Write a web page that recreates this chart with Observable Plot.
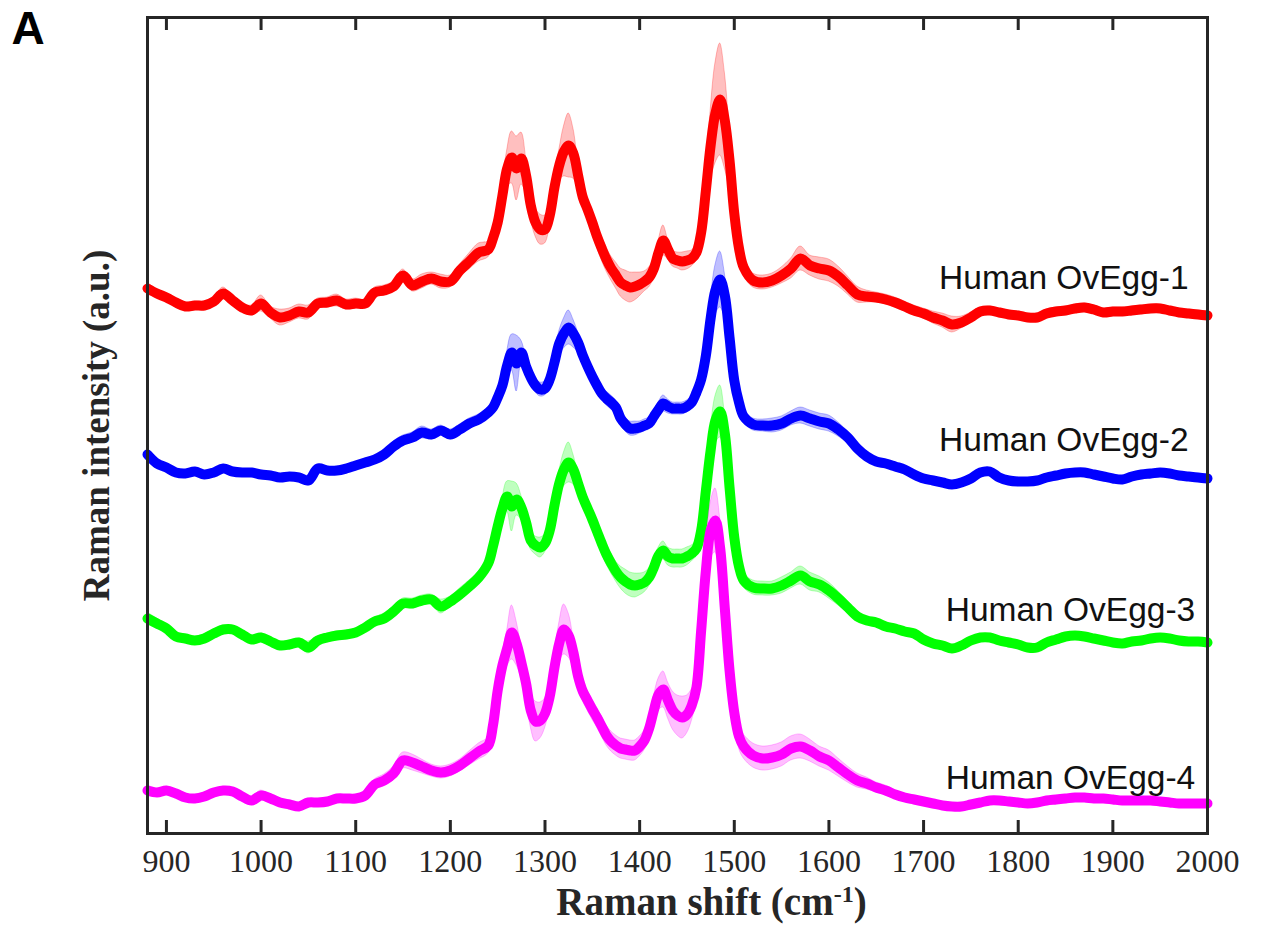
<!DOCTYPE html>
<html>
<head>
<meta charset="utf-8">
<script src="https://cdn.jsdelivr.net/npm/d3@7"></script>
<script src="https://cdn.jsdelivr.net/npm/@observablehq/plot@0.6"></script>
<style>
  html, body { margin: 0; padding: 0; background: #fff; }
  #chart { width: 1261px; height: 926px; }
</style>
</head>
<body>
<div id="chart"></div>
<script>
// Raman shift grid (cm^-1)
const wavenumbers = [
  880,890,900,910,920,930,940,950,960,970,980,990,1000,1010,1020,1030,1040,1050,1060,1070,
  1080,1090,1100,1110,1120,1130,1140,1150,1160,1170,1180,1190,1200,1210,1220,1230,1240,
  1245,1250,1255,1260,1265,1270,1275,1280,1285,1290,1295,1300,1305,1310,1315,1320,1325,1330,
  1335,1340,1345,1350,1355,1360,1365,1370,1375,1380,1385,1390,1395,1400,1405,1410,1415,1420,
  1425,1430,1435,1440,1445,1450,1455,1460,1465,1470,1475,1480,1485,1490,1495,1500,1505,1510,
  1520,1530,1540,1550,1560,1570,1580,1590,1600,1610,1620,1630,1640,1650,1660,1670,1680,1690,
  1700,1710,1720,1730,1740,1750,1760,1770,1780,1790,1800,1810,1820,1830,1840,1850,1860,1870,
  1880,1890,1900,1910,1920,1930,1940,1950,1960,1970,1980,1990,2000
];

const seriesNames = ["Human OvEgg-1", "Human OvEgg-2", "Human OvEgg-3", "Human OvEgg-4"];
const seriesColors = ["#ff0000", "#0000ff", "#00ff00", "#ff00ff"];

// Mean intensities (a.u., offset stacked)
const ovEgg1 = [
  545,540,536,531,527,528,528,532,540,533,526,523,530,521,516,518,522,521,530,531,
  533,529,530,530,541,543,547,558,548,552,555,552,552,563,572,581,584,
  595,611,638,665,676,665,675,658,628,611,604,604,618,646,668,682,688,680,
  658,636,624,611,597,585,574,565,558,551,548,546,547,549,552,556,565,581,
  593,584,575,573,572,573,575,581,601,643,688,720,734,713,673,620,585,566,
  553,551,553,558,565,575,568,565,563,557,548,539,537,536,534,531,527,523,
  520,516,513,509,511,516,522,523,521,519,518,516,516,520,522,523,525,526,
  524,521,522,522,523,524,525,525,523,521,520,519,518
];
const ovEgg1Sd = [
  6,4,4,5,4,4,4,4,6,4,4,5,8,6,8,7,7,7,5,5,
  6,5,5,4,5,5,5,6,6,7,6,7,6,6,8,9,8,
  8,10,12,18,26,32,26,18,14,14,15,14,12,12,15,25,32,25,
  14,10,10,10,11,12,12,12,13,14,15,15,14,12,10,10,10,12,
  15,10,8,8,9,9,8,8,12,20,35,50,56,48,30,15,9,8,
  7,7,7,8,10,12,10,11,11,10,9,8,6,5,5,5,5,5,
  5,6,7,8,6,5,4,4,4,4,4,4,4,4,4,4,4,4,
  4,4,4,4,4,4,4,4,4,4,4,4,4
];

const ovEgg2 = [
  379,370,366,361,360,362,359,361,365,362,361,361,359,358,356,357,356,353,365,363,
  363,365,368,371,374,379,387,393,396,401,399,403,399,404,410,414,421,
  426,436,448,468,481,470,481,467,456,448,444,445,454,471,490,500,506,500,
  491,478,467,457,448,440,435,431,426,415,409,405,405,406,408,410,417,424,
  430,427,425,425,425,427,431,441,454,478,515,543,554,538,496,453,431,417,
  409,408,408,410,415,418,415,412,410,404,396,385,377,372,370,367,364,359,
  355,353,351,349,351,355,361,362,356,353,352,352,353,356,358,360,361,361,
  359,357,355,354,357,359,360,361,360,358,357,356,355
];
const ovEgg2Sd = [
  5,4,3,3,3,3,3,3,3,3,3,3,3,3,3,3,3,5,4,3,
  3,3,3,3,3,4,5,5,5,6,5,5,5,5,5,5,5,
  5,6,8,14,18,28,12,10,8,7,7,7,7,8,12,15,17,14,
  10,8,7,7,7,7,7,7,7,7,7,7,7,6,6,6,6,7,
  8,7,6,6,6,6,6,6,8,12,18,25,28,22,14,8,6,6,
  6,6,7,7,7,8,8,8,8,7,6,5,3,3,3,3,3,3,
  3,3,3,3,3,3,3,3,3,3,3,3,3,3,3,3,3,3,
  3,3,3,3,3,3,3,3,3,3,3,3,3
];

const ovEgg3 = [
  215,210,205,197,195,193,195,200,204,204,199,194,196,192,188,189,191,186,193,196,
  198,199,201,206,212,215,222,230,230,233,234,227,232,239,247,256,270,
  287,307,325,337,327,334,326,311,293,288,286,290,303,328,350,364,371,364,
  350,336,325,314,302,290,279,270,262,256,252,249,248,249,251,256,266,278,
  283,277,275,275,275,277,280,285,303,343,383,413,422,400,346,296,267,253,
  246,245,245,248,253,258,252,249,243,235,226,217,213,211,207,205,202,200,
  194,190,188,185,188,193,196,196,193,191,189,186,186,191,194,197,198,197,
  195,193,191,190,192,193,195,196,195,193,192,192,191
];
const ovEgg3Sd = [
  6,5,4,4,4,4,4,4,4,4,4,4,4,4,4,4,4,6,4,4,
  4,4,4,4,4,5,5,5,5,5,5,7,5,6,6,6,6,
  7,8,10,15,25,16,12,10,9,9,10,9,8,9,12,17,20,15,
  10,8,8,8,9,10,10,10,10,11,12,12,12,11,10,9,8,8,
  9,9,9,9,9,9,8,8,10,14,20,24,26,20,12,8,7,7,
  7,7,7,8,8,9,9,8,8,7,6,5,3,3,3,3,3,3,
  3,3,3,3,3,3,3,3,3,3,3,3,3,3,3,3,3,3,
  3,3,3,3,3,3,3,3,3,3,3,3,3
];

const ovEgg4 = [
  43,41,43,40,36,35,37,41,43,42,37,33,38,35,31,29,27,31,31,32,
  35,35,35,38,49,53,60,73,71,67,63,61,63,68,75,82,88,
  108,143,168,185,201,190,171,150,123,112,113,120,137,166,190,204,198,181,
  157,142,133,124,116,107,98,92,88,85,84,83,83,87,93,105,123,139,
  144,133,123,118,116,119,128,146,203,263,303,313,286,225,163,121,97,87,
  78,75,76,79,85,87,83,77,73,66,59,53,50,46,43,39,36,34,
  32,30,28,27,27,29,31,33,33,32,31,30,31,33,34,35,36,36,
  35,35,34,33,33,33,33,32,31,30,30,30,30
];
const ovEgg4Sd = [
  5,4,3,3,3,3,3,3,3,3,3,3,5,3,3,3,4,3,3,3,
  3,3,3,3,5,6,7,8,8,7,6,6,6,6,7,8,8,
  9,10,12,18,27,22,16,15,17,20,18,15,12,14,20,25,22,15,
  12,10,10,10,10,10,10,10,10,10,10,10,10,10,10,12,14,16,
  18,18,19,20,21,19,16,12,14,20,28,32,30,20,14,12,12,12,
  12,12,12,12,12,12,11,10,10,9,8,7,6,5,5,4,3,3,
  3,3,3,3,3,3,3,3,3,3,3,3,3,3,3,3,3,3,
  3,3,3,3,3,3,3,3,3,3,3,3,3
];

// Label placement (right-hand annotations)
const labelX = [1980, 1980, 1987, 1987];
const labelY = [545, 383, 213, 45];

const xTicks = [900,1000,1100,1200,1300,1400,1500,1600,1700,1800,1900,2000];

// Build tidy table
const means = [ovEgg1, ovEgg2, ovEgg3, ovEgg4];
const sds = [ovEgg1Sd, ovEgg2Sd, ovEgg3Sd, ovEgg4Sd];
const rows = [];
seriesNames.forEach((name, i) => {
  wavenumbers.forEach((w, j) => {
    rows.push({series: name, x: w, y: means[i][j], lo: means[i][j] - sds[i][j], hi: means[i][j] + sds[i][j]});
  });
});
const labels = seriesNames.map((name, i) => ({series: name, x: labelX[i], y: labelY[i]}));

const seriesMarks = [];
seriesNames.forEach((name, i) => {
  const d = rows.filter(r => r.series === name);
  seriesMarks.push(Plot.areaY(d, {x: "x", y1: "lo", y2: "hi", fill: seriesColors[i], fillOpacity: 0.25,
    stroke: seriesColors[i], strokeOpacity: 0.25, strokeWidth: 1, curve: "catmull-rom"}));
  seriesMarks.push(Plot.line(d, {x: "x", y: "y", stroke: seriesColors[i], strokeWidth: 10,
    strokeLinejoin: "round", strokeLinecap: "round", curve: "catmull-rom"}));
});

const chart = Plot.plot({
  width: 1261,
  height: 926,
  marginLeft: 147,
  marginRight: 54,
  marginTop: 17,
  marginBottom: 93,
  style: {fontFamily: "'Liberation Serif', 'Times New Roman', serif", background: "#fff", color: "#262626"},
  x: {domain: [880, 2000], axis: null},
  y: {domain: [0, 816], axis: null},
  marks: [
    ...seriesMarks,
    Plot.frame({stroke: "#262626", strokeWidth: 3}),
    Plot.tickX(xTicks, {x: d => d, insetTop: 803, stroke: "#262626", strokeWidth: 3}),
    Plot.tickX(xTicks, {x: d => d, insetBottom: 803, stroke: "#262626", strokeWidth: 3}),
    Plot.axisX(xTicks, {anchor: "bottom", tickSize: 0, tickPadding: 16, fontSize: 32, fill: "#262626", label: null, tickFormat: d => String(d)}),
    Plot.text(labels, {x: "x", y: "y", text: "series", textAnchor: "end", lineAnchor: "bottom",
      fontFamily: "'Liberation Sans', Arial, sans-serif", fontSize: 33.5, fill: "#111"}),
    Plot.text(["Raman intensity (a.u.)"], {frameAnchor: "left", dx: -50, rotate: -90, textAnchor: "middle", lineAnchor: "middle",
      fontSize: 37, fontWeight: "bold", fill: "#262626"}),
    Plot.text(["Raman shift (cm-1)"], {frameAnchor: "bottom", dx: 34, dy: 81, textAnchor: "middle", lineAnchor: "bottom",
      fontSize: 39, fontWeight: "bold", fill: "#262626"}),
    Plot.text(["A"], {frameAnchor: "top-left", dx: -119.5, dy: 26, textAnchor: "middle", lineAnchor: "bottom",
      fontFamily: "'Liberation Sans', Arial, sans-serif", fontSize: 46, fontWeight: "bold", fill: "#000"})
  ]
});

// Superscript in x-axis title
d3.select(chart).selectAll("text").filter(function() { return this.textContent === "Raman shift (cm-1)"; })
  .each(function() {
    const t = d3.select(this);
    t.text(null);
    t.append("tspan").text("Raman shift (cm");
    t.append("tspan").attr("dy", -13).attr("font-size", 24).text("-1");
    t.append("tspan").attr("dy", 13).text(")");
  });

document.getElementById("chart").appendChild(chart);
</script>
</body>
</html>
